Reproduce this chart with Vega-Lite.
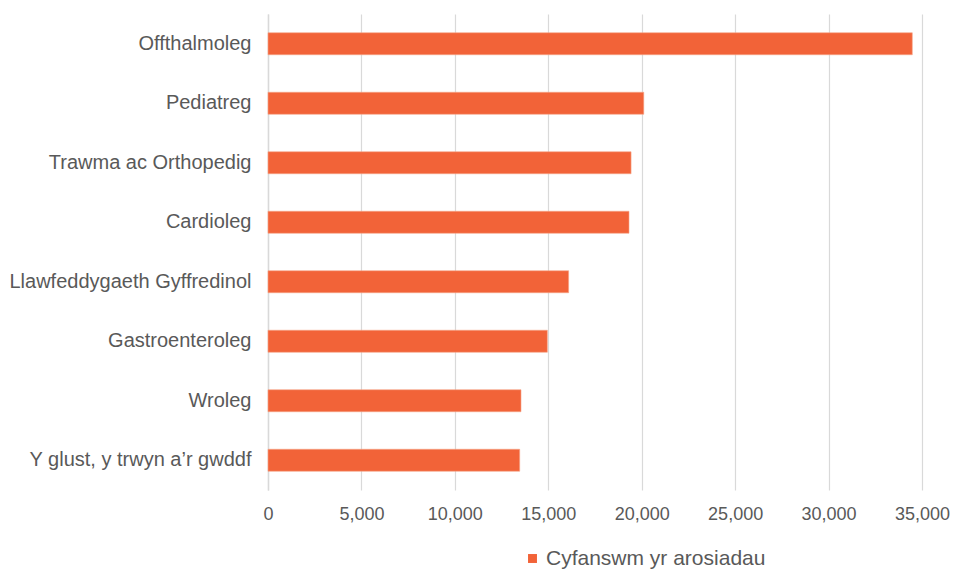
{
  "$schema": "https://vega.github.io/schema/vega-lite/v6.json",
  "width": 654,
  "height": 476,
  "autosize": {"type": "none"},
  "padding": {"left": 268, "top": 14, "right": 31, "bottom": 79},
  "data": {
    "values": [
      {"arbenigedd": "Offthalmoleg", "gwerth": 34480, "cyfres": "Cyfanswm yr arosiadau"},
      {"arbenigedd": "Pediatreg", "gwerth": 20110, "cyfres": "Cyfanswm yr arosiadau"},
      {"arbenigedd": "Trawma ac Orthopedig", "gwerth": 19430, "cyfres": "Cyfanswm yr arosiadau"},
      {"arbenigedd": "Cardioleg", "gwerth": 19320, "cyfres": "Cyfanswm yr arosiadau"},
      {"arbenigedd": "Llawfeddygaeth Gyffredinol", "gwerth": 16090, "cyfres": "Cyfanswm yr arosiadau"},
      {"arbenigedd": "Gastroenteroleg", "gwerth": 14950, "cyfres": "Cyfanswm yr arosiadau"},
      {"arbenigedd": "Wroleg", "gwerth": 13540, "cyfres": "Cyfanswm yr arosiadau"},
      {"arbenigedd": "Y glust, y trwyn a’r gwddf", "gwerth": 13470, "cyfres": "Cyfanswm yr arosiadau"}
    ]
  },
  "mark": {"type": "bar", "stroke": "#F7A68A", "strokeWidth": 0.6},
  "encoding": {
    "y": {
      "field": "arbenigedd",
      "type": "nominal",
      "sort": null,
      "scale": {"paddingInner": 0.63, "paddingOuter": 0.315},
      "axis": {
        "title": null,
        "ticks": false,
        "domain": true,
        "domainColor": "#D9D9D9",
        "domainWidth": 1.5,
        "labelFont": "Liberation Sans",
        "labelFontSize": 20,
        "labelColor": "#595959",
        "labelPadding": 17,
        "labelLimit": 300
      }
    },
    "x": {
      "field": "gwerth",
      "type": "quantitative",
      "scale": {"domain": [0, 35000], "nice": false},
      "axis": {
        "title": null,
        "values": [0, 5000, 10000, 15000, 20000, 25000, 30000, 35000],
        "format": ",d",
        "ticks": false,
        "domain": false,
        "grid": true,
        "gridColor": "#D9D9D9",
        "gridWidth": 1.2,
        "labelFlush": false,
        "labelFont": "Liberation Sans",
        "labelFontSize": 18,
        "labelColor": "#595959",
        "labelPadding": 15
      }
    },
    "color": {
      "field": "cyfres",
      "type": "nominal",
      "scale": {"range": ["#F26338"]},
      "legend": {
        "title": null,
        "orient": "none",
        "legendX": 254,
        "legendY": 534,
        "symbolType": "square",
        "symbolSize": 80,
        "symbolStrokeWidth": 0,
        "labelFont": "Liberation Sans",
        "labelFontSize": 21,
        "labelColor": "#595959",
        "labelOffset": 3,
        "labelLimit": 400
      }
    }
  },
  "config": {
    "view": {"stroke": null},
    "background": "white"
  }
}
